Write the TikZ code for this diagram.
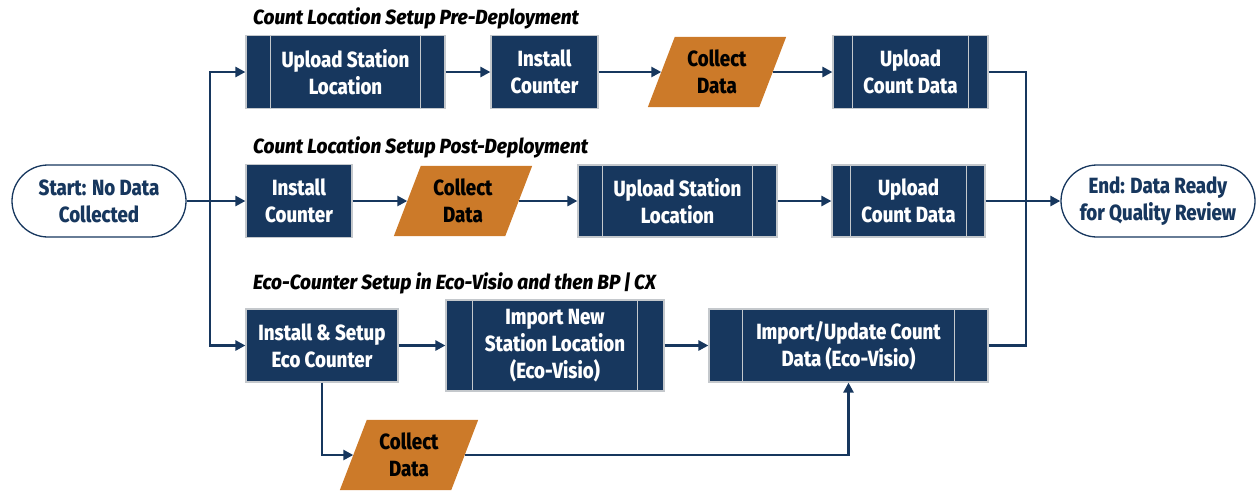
\documentclass[tikz,border=0pt]{standalone}
\usepackage{fontspec}
\setmainfont[FakeStretch=0.85, BoldFont={Fira Sans ExtraBold}, BoldItalicFont={Fira Sans ExtraBold Italic}]{Fira Sans}
\newfontfamily\titlefont[FakeStretch=0.93, BoldFont={Fira Sans ExtraBold}, BoldItalicFont={Fira Sans ExtraBold Italic}]{Fira Sans}
\usetikzlibrary{arrows.meta,backgrounds,calc}
\definecolor{navy}{HTML}{17375E}
\definecolor{orng}{HTML}{CC7A29}
\definecolor{edgegray}{HTML}{C4C8CC}
\tikzset{
  box/.style={rectangle, fill=navy, draw=edgegray, line width=1.2pt, text=white,
    font=\fontsize{22}{27}\selectfont\bfseries, align=center, inner sep=0pt},
  datanode/.style={rectangle, draw=none, text=black, minimum width=111pt, minimum height=70pt,
    font=\fontsize{22}{27}\selectfont\bfseries, align=center, inner sep=0pt},
  term/.style={rectangle, rounded corners=36pt, draw=navy, line width=1.3pt, fill=white, text=navy,
    minimum height=72pt, font=\fontsize{22}{27}\selectfont\bfseries, align=center, inner sep=0pt},
  title/.style={anchor=west, inner sep=0pt, font=\titlefont\fontsize{20.5}{22}\selectfont\bfseries\itshape, text=black},
  conn/.style={draw=navy, line width=2.7pt},
  arr/.style={conn, -{Triangle[length=10pt,width=10pt]}},
  innerl/.style={draw=edgegray, line width=1.2pt},
}
\newcommand\innerlines[2]{\draw[innerl] ([xshift=#2pt]#1.north west) -- ([xshift=#2pt]#1.south west)
  ([xshift=-#2pt]#1.north east) -- ([xshift=-#2pt]#1.south east);}
\newcommand\para[1]{\fill[orng] ([xshift=13.5pt]#1.north west) -- ([xshift=13.5pt]#1.north east)
  -- ([xshift=-13.5pt]#1.south east) -- ([xshift=-13.5pt]#1.south west) -- cycle;}
\begin{document}
\begin{tikzpicture}[x=1pt,y=-1pt]
\useasboundingbox (0,0) rectangle (1257,491);
% titles
\node[title] (t1) at (253,18) {Count Location Setup Pre-Deployment};
\node[title] (t2) at (253,147) {Count Location Setup Post-Deployment};
\node[title] (t3) at (253,283) {Eco-Counter Setup in Eco-Visio and then BP\,|\,CX};
% terminals
\node[term, minimum width=174pt] (start) at (99,201) {Start: No Data\\Collected};
\node[term, minimum width=194pt] (end) at (1158,201) {End: Data Ready\\for Quality Review};
% row 1
\node[box, minimum width=199pt, minimum height=73pt] (us1) at (345.5,72) {Upload Station\\Location};
\node[box, minimum width=107pt, minimum height=73pt] (ic1) at (544.5,72) {Install\\Counter};
\node[datanode] (cd1) at (717,72) {Collect\\Data};
\node[box, minimum width=155pt, minimum height=73pt] (uc1) at (910.5,72) {Upload\\Count Data};
% row 2
\node[box, minimum width=106pt, minimum height=73pt] (ic2) at (299,201) {Install\\Counter};
\node[datanode] (cd2) at (463,201) {Collect\\Data};
\node[box, minimum width=199pt, minimum height=72pt] (us2) at (677.5,201) {Upload Station\\Location};
\node[box, minimum width=153pt, minimum height=72pt] (uc2) at (908.5,201) {Upload\\Count Data};
% row 3
\node[box, minimum width=152pt, minimum height=73pt] (es3) at (322,345.5) {Install \& Setup\\Eco Counter};
\node[box, minimum width=218pt, minimum height=91pt] (in3) at (555,345.5) {Import New\\Station Location\\(Eco-Visio)};
\node[box, minimum width=279pt, minimum height=73pt] (iu3) at (848.5,345.5) {Import/Update Count\\Data (Eco-Visio)};
\node[datanode] (cd3) at (409,455) {Collect\\Data};
% decorations
\innerlines{us1}{25}
\innerlines{uc1}{20}
\innerlines{us2}{25}
\innerlines{uc2}{19}
\innerlines{in3}{27}
\innerlines{iu3}{34}
\begin{scope}[on background layer]
\para{cd1}
\para{cd2}
\para{cd3}
\end{scope}
% connectors
\coordinate (j) at (210,201);
\coordinate (k) at (1026,201);
\draw[conn] (start.east) -- (j);
\draw[arr] (j) |- (us1.west);
\draw[arr] (j) |- (es3.west);
\draw[arr] (j) -- (ic2.west);
\draw[arr] (us1) -- (ic1);
\draw[arr] (ic1) -- (cd1);
\draw[arr] (cd1) -- (uc1);
\draw[arr] (ic2) -- (cd2);
\draw[arr] (cd2) -- (us2);
\draw[arr] (us2) -- (uc2);
\draw[arr] (uc2) -- (end);
\draw[conn] (uc1.east) -| (k);
\draw[conn] (iu3.east) -| (k);
\draw[arr] (es3) -- (in3);
\draw[arr] (in3) -- (iu3);
\draw[arr] (es3.south) |- (cd3.west);
\draw[arr] (cd3.east) -| (iu3.south);
\end{tikzpicture}
\end{document}
